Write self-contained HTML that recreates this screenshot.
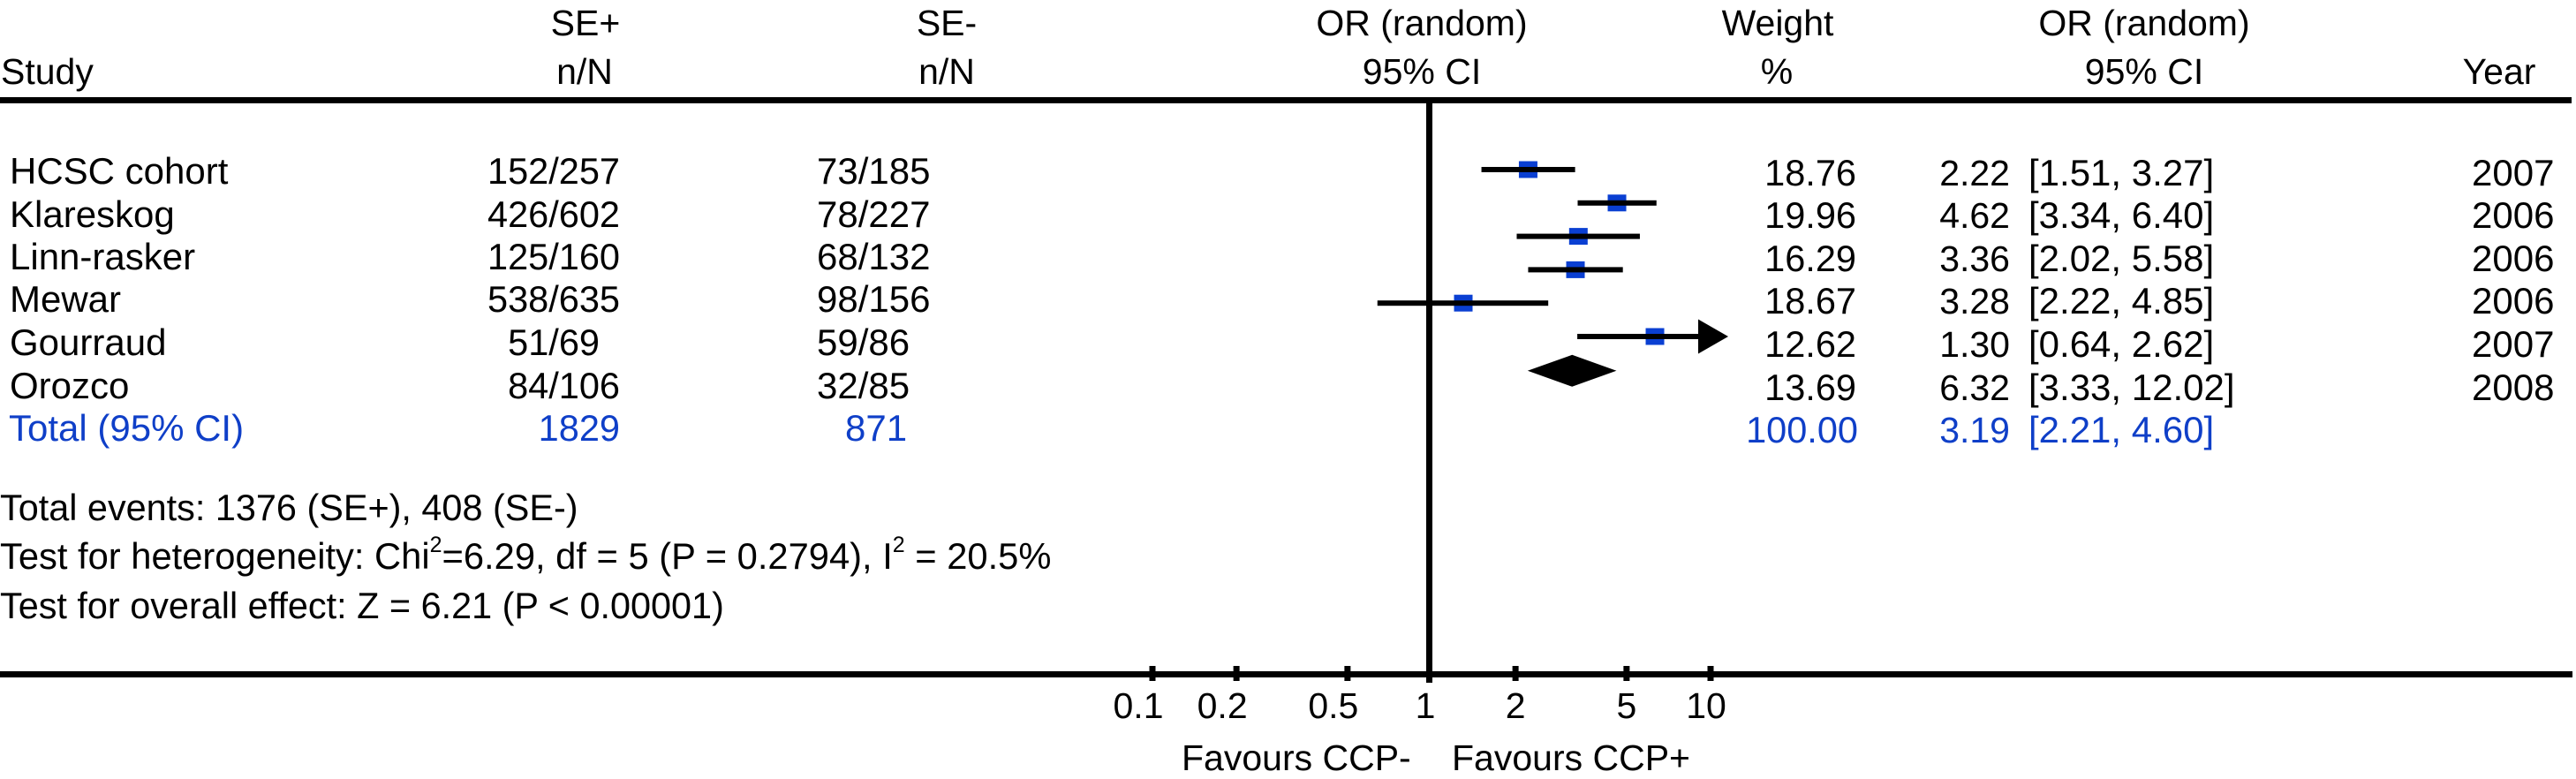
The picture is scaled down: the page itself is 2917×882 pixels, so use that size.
<!DOCTYPE html>
<html lang="en">
<head>
<meta charset="utf-8">
<title>Forest plot: SE+ vs SE-</title>
<style>
  html, body { margin: 0; padding: 0; background: #ffffff; }
  svg { display: block; }
  text { font-family: "Liberation Sans", Arial, sans-serif; font-size: 41px; fill: #000000; }
  .blue { fill: #0f3fc8; }
  .m { text-anchor: middle; }
  .e { text-anchor: end; }
  .sup { font-size: 25px; }
  .wide text { font-size: 42px; }
  .mid text { font-size: 41.5px; }
  .f1 { font-size: 41.4px; }
  .f2 { font-size: 41.7px; }
</style>
</head>
<body>
<svg id="plot" xmlns="http://www.w3.org/2000/svg" width="2917" height="882" viewBox="0 0 2917 882">
  <rect x="0" y="0" width="2917" height="882" fill="#ffffff"/>

  <g>
    <text x="1" y="95">Study</text>
    <text class="m" x="663" y="40">SE+</text>
    <text class="m" x="662" y="95">n/N</text>
    <text class="m" x="1072" y="40">SE-</text>
    <text class="m" x="1072" y="95">n/N</text>
    <text class="m" x="1610" y="40">OR (random)</text>
    <text class="m" x="1610" y="95">95% CI</text>
    <text class="m" x="2013" y="40">Weight</text>
    <text class="m" x="2012" y="95">%</text>
    <text class="m" x="2428" y="40">OR (random)</text>
    <text class="m" x="2428" y="95">95% CI</text>
    <text class="m" x="2830" y="95">Year</text>
  </g>

  <rect x="0" y="110" width="2912" height="7" fill="#000"/>
  <rect x="0" y="760" width="2913" height="7" fill="#000"/>

  <g class="wide">
    <text x="11" y="208">HCSC cohort</text>
    <text x="11" y="257">Klareskog</text>
    <text x="11" y="305">Linn-rasker</text>
    <text x="11" y="353">Mewar</text>
    <text x="11" y="402">Gourraud</text>
    <text x="11" y="451">Orozco</text>
    <text class="blue" x="10" y="499">Total (95% CI)</text>
  </g>

  <g class="mid">
    <text class="e" x="702" y="208">152/257</text>
    <text class="e" x="702" y="257">426/602</text>
    <text class="e" x="702" y="305">125/160</text>
    <text class="e" x="702" y="353">538/635</text>
    <text class="e" x="679" y="402">51/69</text>
    <text class="e" x="702" y="451">84/106</text>
    <text class="e blue" x="702" y="499">1829</text>
  </g>

  <g class="wide">
    <text x="925" y="208">73/185</text>
    <text x="925" y="257">78/227</text>
    <text x="925" y="305">68/132</text>
    <text x="925" y="353">98/156</text>
    <text x="925" y="402">59/86</text>
    <text x="925" y="451">32/85</text>
    <text class="blue" x="957" y="499">871</text>
  </g>

  <g class="mid">
    <text class="e" x="2102" y="210">18.76</text>
    <text class="e" x="2102" y="258">19.96</text>
    <text class="e" x="2102" y="307">16.29</text>
    <text class="e" x="2102" y="355">18.67</text>
    <text class="e" x="2102" y="404">12.62</text>
    <text class="e" x="2102" y="453">13.69</text>
    <text class="e blue" x="2104" y="501">100.00</text>
  </g>

  <g>
    <text class="e" x="2276" y="210">2.22</text>
    <text class="e" x="2276" y="258">4.62</text>
    <text class="e" x="2276" y="307">3.36</text>
    <text class="e" x="2276" y="355">3.28</text>
    <text class="e" x="2276" y="404">1.30</text>
    <text class="e" x="2276" y="453">6.32</text>
    <text class="e blue" x="2276" y="501">3.19</text>
  </g>

  <g class="wide">
    <text x="2297" y="210">[1.51, 3.27]</text>
    <text x="2297" y="258">[3.34, 6.40]</text>
    <text x="2297" y="307">[2.02, 5.58]</text>
    <text x="2297" y="355">[2.22, 4.85]</text>
    <text x="2297" y="404">[0.64, 2.62]</text>
    <text x="2297" y="453">[3.33, 12.02]</text>
    <text class="blue" x="2297" y="501">[2.21, 4.60]</text>
  </g>

  <g class="wide">
    <text x="2799" y="210">2007</text>
    <text x="2799" y="258">2006</text>
    <text x="2799" y="307">2006</text>
    <text x="2799" y="355">2006</text>
    <text x="2799" y="404">2007</text>
    <text x="2799" y="453">2008</text>
  </g>

  <g>
    <text class="f1" x="0" y="589">Total events: 1376 (SE+), 408 (SE-)</text>
    <text class="f2" x="0" y="644">Test for heterogeneity: Chi<tspan class="sup" dy="-19">2</tspan><tspan dy="19">=6.29, df = 5 (P = 0.2794), I</tspan><tspan class="sup" dy="-19">2</tspan><tspan dy="19"> = 20.5%</tspan></text>
    <text class="f1" x="0" y="700">Test for overall effect: Z = 6.21 (P &lt; 0.00001)</text>
  </g>

  <text x="1338" y="872">Favours CCP-</text>
  <text x="1644" y="872">Favours CCP+</text>

  <g id="marks"></g>
</svg>

<script>
const studies = ["HCSC cohort", "Klareskog", "Linn-rasker", "Mewar", "Gourraud", "Orozco"];
const oddsRatios = [2.22, 4.62, 3.36, 3.28, 1.30, 6.32];
const ciLower = [1.51, 3.34, 2.02, 2.22, 0.64, 3.33];
const ciUpper = [3.27, 6.40, 5.58, 4.85, 2.62, 12.02];
const pooledOr = 3.19;
const pooledLower = 2.21;
const pooledUpper = 4.60;
const tickValues = [0.1, 0.2, 0.5, 1, 2, 5, 10];
const tickLabels = ["0.1", "0.2", "0.5", "1", "2", "5", "10"];

const SVG_NS = "http://www.w3.org/2000/svg";
const marks = document.getElementById("marks");
const BLUE = "#0a3fd2";
const axisMax = tickValues[tickValues.length - 1];

function xScale(v) { return 1621 + 316 * Math.log10(v); }
function rowY(i) { return 192 + 37.8 * i; }
function labelOffset(v) {
  if (v < 1) return -16;
  if (v === 1) return -7;
  if (v >= 10) return -5;
  return 0;
}
function kebab(s) { return s.toLowerCase().replace(/[^a-z0-9]+/g, "-"); }
function make(tag, attrs) {
  const el = document.createElementNS(SVG_NS, tag);
  Object.keys(attrs).forEach(function (k) { el.setAttribute(k, attrs[k]); });
  marks.appendChild(el);
  return el;
}

const refX = xScale(1) - 2.5;
const refLine = make("rect", { x: refX - 3.5, y: 117, width: 7, height: 656, fill: "#000" });



tickValues.forEach(function (v, i) {
  const x = xScale(v);
  if (v !== 1) {
    const tick = make("rect", { x: x - 3.5, y: 754, width: 7, height: 17, fill: "#000" });
    
    
  }
  const label = make("text", { x: x + labelOffset(v), y: 813, "text-anchor": "middle" });
  label.textContent = tickLabels[i];
  
  
});

studies.forEach(function (name, i) {
  const y = rowY(i);
  const cx = xScale(oddsRatios[i]);
  const box = make("rect", { x: cx - 10.5, y: y - 9.5, width: 21, height: 19, fill: BLUE });
  
  

  const clipped = ciUpper[i] > axisMax;
  const x1 = xScale(ciLower[i]);
  const x2 = clipped ? xScale(axisMax) - 10 : xScale(ciUpper[i]);
  const ci = make("rect", { x: x1, y: y - 3, width: x2 - x1, height: 6, fill: "#000" });
  
  

  if (clipped) {
    const bx = xScale(axisMax) - 14;
    const tx = xScale(axisMax) + 20;
    const arrow = make("polygon", {
      points: bx + "," + (y - 19.5) + " " + tx + "," + y + " " + bx + "," + (y + 19.5),
      fill: "#000"
    });
    
    
  }
});

const dy = rowY(studies.length) + 1;
const diamond = make("polygon", {
  points: xScale(pooledLower) + "," + dy + " " + xScale(pooledOr) + "," + (dy - 18) + " " +
          xScale(pooledUpper) + "," + dy + " " + xScale(pooledOr) + "," + (dy + 18),
  fill: "#000"
});


</script>
</body>
</html>
